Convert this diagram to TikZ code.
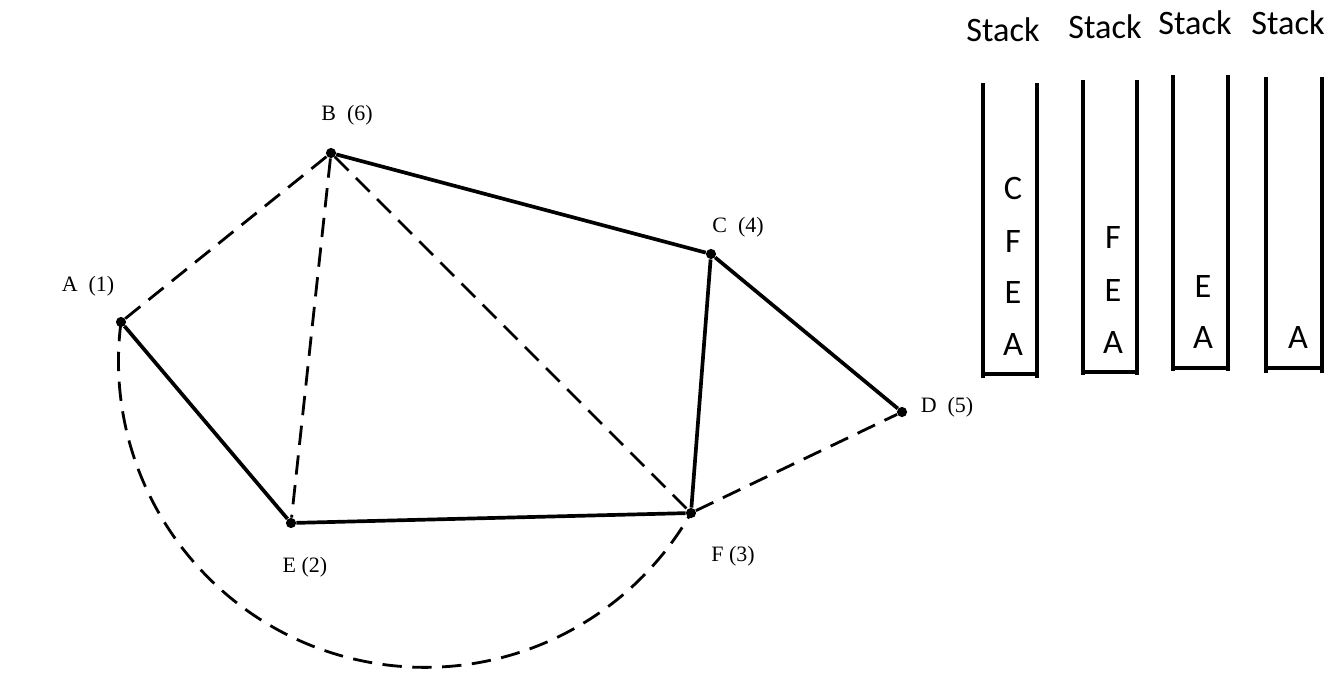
\documentclass[tikz,border=0pt]{standalone}
\usepackage{fontspec}
\setmainfont{Liberation Serif}
\newfontfamily\stackfont{Carlito}
\usetikzlibrary{positioning}

\begin{document}
\begin{tikzpicture}[x=0.02cm, y=-0.02cm,
    every node/.style={font=\fontsize{12.5}{14}\selectfont},
    vertex/.style={circle, fill, inner sep=0pt, minimum size=5.8pt},
    vlabel/.style={inner sep=1pt},
    edge/.style={line width=2.1pt},
    dashedge/.style={line width=1.6pt, dash pattern=on 11pt off 6pt},
    stackwall/.style={line width=1.8pt},
    stacktext/.style={font=\stackfont\fontsize{19.5}{23}\selectfont, inner sep=0pt}]

  \useasboundingbox (0,0) rectangle (1339,693);

  % graph vertices
  \node[vertex] (A) at (121,322) {};
  \node[vertex] (B) at (331,153) {};
  \node[vertex] (C) at (711,254) {};
  \node[vertex] (D) at (902,412) {};
  \node[vertex] (E) at (291,523) {};
  \node[vertex] (F) at (691,513) {};

  \node[vlabel] (lA) at (88,286) {A~~(1)};
  \node[vlabel] (lB) at (347,115) {B~~(6)};
  \node[vlabel] (lC) at (738,227) {C~~(4)};
  \node[vlabel] (lD) at (947,407) {D~~(5)};
  \node[vlabel] (lE) at (305,567) {E (2)};
  \node[vlabel] (lF) at (733,556) {F (3)};

  % tree edges
  \draw[edge] (A) -- (E);
  \draw[edge] (E) -- (F);
  \draw[edge] (F) -- (C);
  \draw[edge] (C) -- (B);
  \draw[edge] (C) -- (D);

  % back edges
  \draw[dashedge] (A) -- (B);
  \draw[dashedge] (B) -- (E);
  \draw[dashedge] (B) -- (F);
  \draw[dashedge] (F) -- (D);
  \draw[dashedge] (A.center) arc[start angle=172.7, end angle=330.3, radius=6.13cm];

  % stacks
  \draw[stackwall] (983,83) -- (983,378) (1037,83) -- (1037,378) (983,374) -- (1037,374);
  \draw[stackwall] (1083,80) -- (1083,375) (1137,80) -- (1137,375) (1083,372) -- (1137,372);
  \draw[stackwall] (1173,75) -- (1173,371) (1228,75) -- (1228,371) (1173,368) -- (1228,368);
  \draw[stackwall] (1266,77) -- (1266,373) (1322,77) -- (1322,373) (1266,368) -- (1322,368);

  \node[stacktext] (st1) at (1003,30) {Stack};
  \node[stacktext] (st2) at (1105,27) {Stack};
  \node[stacktext] (st3) at (1195,23) {Stack};
  \node[stacktext] (st4) at (1288,23) {Stack};

  \node[stacktext] (s1c) at (1013,188) {C};
  \node[stacktext] (s1f) at (1013,242) {F};
  \node[stacktext] (s1e) at (1013,293) {E};
  \node[stacktext] (s1a) at (1013,345) {A};
  \node[stacktext] (s2f) at (1113,238) {F};
  \node[stacktext] (s2e) at (1113,291) {E};
  \node[stacktext] (s2a) at (1113,343) {A};
  \node[stacktext] (s3e) at (1203,287) {E};
  \node[stacktext] (s3a) at (1203,338) {A};
  \node[stacktext] (s4a) at (1298,338) {A};
\end{tikzpicture}
\end{document}
